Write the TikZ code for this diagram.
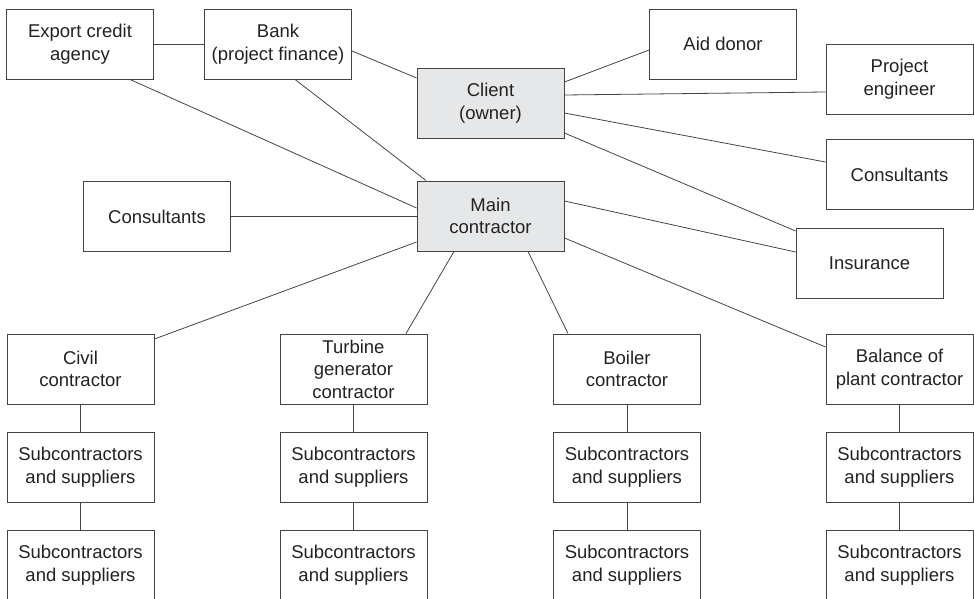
\documentclass[tikz,border=0pt]{standalone}
\usepackage{fontspec}
\setmainfont{Liberation Sans}
\definecolor{boxfill}{HTML}{E6E7E8}
\definecolor{linecol}{HTML}{444444}
\definecolor{txtcol}{HTML}{222222}
\begin{document}
\begin{tikzpicture}[x=1pt,y=-1pt,
  box/.style={draw=linecol,line width=0.9pt,minimum width=147pt,minimum height=70pt,inner sep=0pt,align=center,text=txtcol,font=\fontsize{18.5}{22.6}\selectfont},
  hub/.style={box,fill=boxfill},
  link/.style={draw=linecol,line width=0.8pt}]
\useasboundingbox (0,0) rectangle (974,599);
\node[box] (eca) at (80,44) {Export credit\\agency};
\node[box] (bank) at (278,44) {Bank\\(project finance)};
\node[hub] (client) at (490.5,103.5) {Client\\(owner)};
\node[hub] (main) at (490.5,216) {Main\\contractor};
\node[box] (aid) at (723,44) {Aid donor};
\node[box] (pe) at (899.5,79.5) {Project\\engineer};
\node[box] (consR) at (899.5,174.5) {Consultants};
\node[box] (ins) at (869.5,263.5) {Insurance};
\node[box] (consL) at (157,216.5) {Consultants};
\node[box] (civil) at (80.5,369) {Civil\\contractor};
\node[box] (turb) at (353.5,369) {Turbine\\generator\\contractor};
\node[box] (boil) at (627,369) {Boiler\\contractor};
\node[box] (bal) at (899.5,369) {Balance of\\plant contractor};
\foreach \n/\x in {civil/80.5,turb/353.5,boil/627,bal/899.5}{
  \node[box] (\n A) at (\x,467) {Subcontractors\\and suppliers};
  \node[box] (\n B) at (\x,565) {Subcontractors\\and suppliers};
  \draw[link] (\n.south) -- (\n A.north);
  \draw[link] (\n A.south) -- (\n B.north);
}
\draw[link] (eca.east) -- (bank.west);
\draw[link] ([xshift=50pt]eca.south) -- ([yshift=8pt]main.west);
\draw[link] ([xshift=17pt]bank.south) -- ([xshift=-64.5pt]main.north);
\draw[link] ([yshift=-7pt]bank.east) -- ([yshift=25.5pt]client.west);
\draw[link] ([yshift=21.5pt]client.east) -- ([yshift=-6pt]aid.west);
\draw[link] ([yshift=8.5pt]client.east) -- ([yshift=-12.5pt]pe.west);
\draw[link] ([yshift=-9.5pt]client.east) -- ([yshift=12.5pt]consR.west);
\draw[link] ([yshift=-29.5pt]client.east) -- ([yshift=32.5pt]ins.west);
\draw[link] ([yshift=15pt]main.east) -- ([yshift=11.5pt]ins.west);
\draw[link] ([yshift=-22pt]main.east) -- ([yshift=22pt]bal.west);
\draw[link] ([xshift=37.5pt]main.south) -- ([xshift=-59pt]boil.north);
\draw[link] ([xshift=-36.5pt]main.south) -- ([xshift=52.5pt]turb.north);
\draw[link] ([yshift=-26pt]main.west) -- ([yshift=30pt]civil.east);
\draw[link] (consL.east) -- (consL.east -| main.west);
\end{tikzpicture}
\end{document}
